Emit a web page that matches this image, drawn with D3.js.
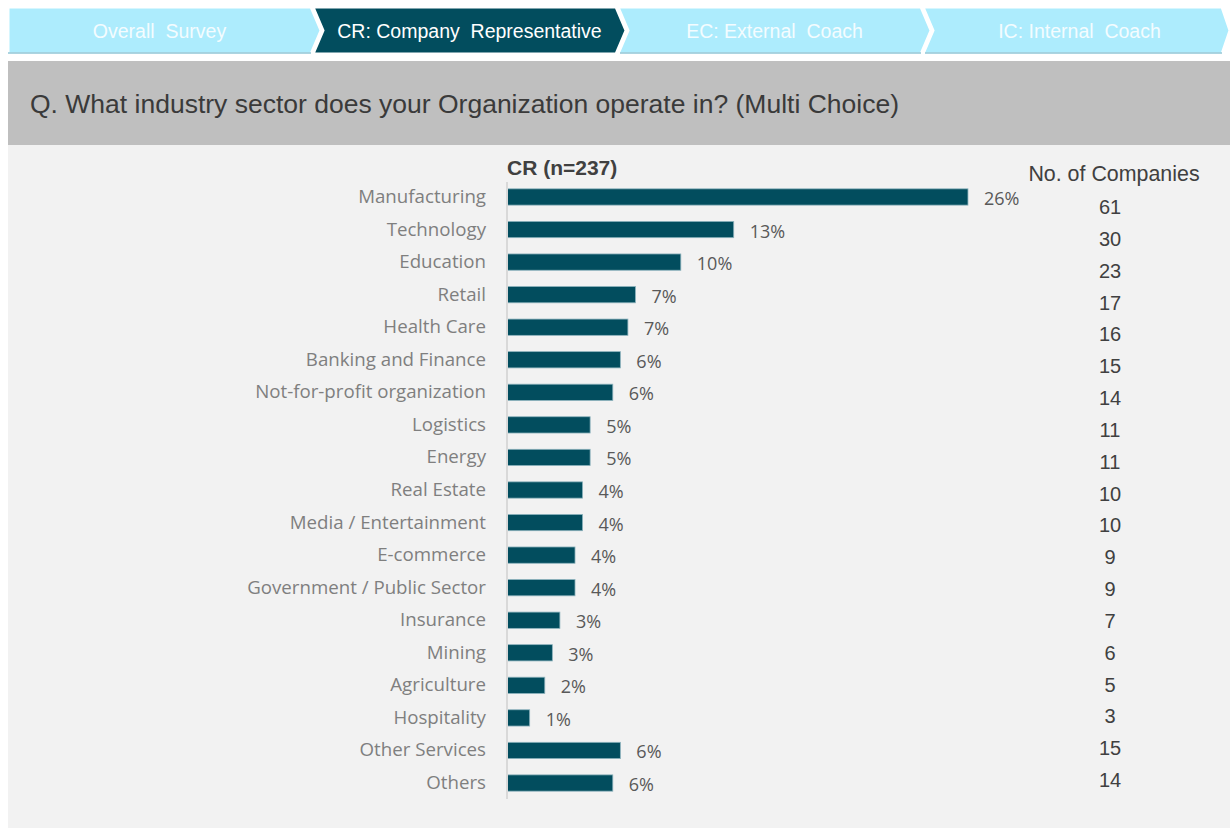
<!DOCTYPE html>
<html>
<head>
<meta charset="utf-8">
<script src="https://cdn.jsdelivr.net/npm/d3@7"></script>
<style>
  body { margin: 0; background: #fff; }
  svg { display: block; }
</style>
</head>
<body>
<svg id="chart" width="1230" height="829"></svg>
<script>
// data
var tabs = ["Overall  Survey", "CR: Company  Representative", "EC: External  Coach", "IC: Internal  Coach"];
var activeTab = 1;
var question = "Q. What industry sector does your Organization operate in? (Multi Choice)";
var seriesTitle = "CR (n=237)";
var sampleSize = 237;
var categories = ["Manufacturing", "Technology", "Education", "Retail", "Health Care",
  "Banking and Finance", "Not-for-profit organization", "Logistics", "Energy", "Real Estate",
  "Media / Entertainment", "E-commerce", "Government / Public Sector", "Insurance", "Mining",
  "Agriculture", "Hospitality", "Other Services", "Others"];
var companies = [61, 30, 23, 17, 16, 15, 14, 11, 11, 10, 10, 9, 9, 7, 6, 5, 3, 15, 14];
var countHeader = "No. of Companies";

var data = categories.map(function(c, i) {
  return { name: c, count: companies[i], share: companies[i] / sampleSize };
});

var svg = d3.select("#chart");

// ---- tabs across the top
var tabW = 303, tabGap = 2, tabTop = 7, tabH = 47, tip = 10;
var tabG = svg.append("g");
tabs.forEach(function(t, i) {
  var x0 = 8 + i * (tabW + tabGap);
  var x1 = x0 + tabW;
  var pts;
  if (i === 0) {
    pts = [[x0, tabTop], [x1, tabTop], [x1 + tip, tabTop + tabH / 2], [x1, tabTop + tabH], [x0, tabTop + tabH]];
  } else {
    pts = [[x0, tabTop], [x1, tabTop], [x1 + tip, tabTop + tabH / 2], [x1, tabTop + tabH], [x0, tabTop + tabH], [x0 + tip, tabTop + tabH / 2]];
  }
  if (i === tabs.length - 1) {
    pts = [[x0, tabTop], [1222, tabTop], [1230, tabTop + tabH / 2], [1222, tabTop + tabH], [x0, tabTop + tabH], [x0 + tip, tabTop + tabH / 2]];
  }
  tabG.append("polygon")
    .attr("points", pts.map(function(p) { return p.join(","); }).join(" "))
    .attr("fill", i === activeTab ? "#024D5E" : "#ADECFD")
    .attr("stroke", "#fff")
    .attr("stroke-width", 3)
    .attr("stroke-linejoin", "miter");
  if (i !== activeTab) {
    tabG.append("line")
      .attr("x1", x0 + (i === 0 ? 0 : 2)).attr("x2", (i === tabs.length - 1 ? 1222 : x1))
      .attr("y1", tabTop + tabH - 1).attr("y2", tabTop + tabH - 1)
      .attr("stroke", "#92C6D6").attr("stroke-width", 1.5);
  }
  tabG.append("text")
    .attr("x", (x0 + x1) / 2 + (i === 0 ? 0 : tip / 2))
    .attr("y", tabTop + tabH / 2 + 7)
    .attr("text-anchor", "middle")
    .style("font-family", "'Liberation Sans', Arial, sans-serif")
    .style("font-size", "19.5px")
    .style("white-space", "pre")
    .attr("fill", i === activeTab ? "#ffffff" : "#F4FCFF")
    .text(t);
});

// ---- question header
svg.append("rect")
  .attr("x", 8).attr("y", 61).attr("width", 1222).attr("height", 84)
  .attr("fill", "#BFBFBF");
svg.append("text")
  .attr("x", 30).attr("y", 113)
  .style("font-family", "'Liberation Sans', Arial, sans-serif")
  .style("font-size", "26.5px")
  .attr("fill", "#3a3a3a")
  .text(question);

// ---- chart panel
svg.append("rect")
  .attr("x", 8).attr("y", 145).attr("width", 1222).attr("height", 683)
  .attr("fill", "#F2F2F2");

var x = d3.scaleLinear().domain([0, 0.3]).range([507, 1044.3]);
var y = d3.scaleBand()
  .domain(categories)
  .range([180.7, 799.3])
  .paddingInner(0.5)
  .paddingOuter(0.25);

var g = svg.append("g");

g.append("text")
  .attr("x", 507).attr("y", 175)
  .style("font-family", "'Liberation Sans', Arial, sans-serif")
  .style("font-size", "21px")
  .style("font-weight", "bold")
  .attr("fill", "#404040")
  .text(seriesTitle);

g.selectAll(".bar")
  .data(data)
  .enter().append("rect")
  .attr("class", "bar")
  .attr("x", x(0))
  .attr("y", function(d) { return y(d.name); })
  .attr("height", y.bandwidth())
  .attr("width", function(d) { return x(d.share) - x(0); })
  .attr("fill", "#024D5E")
  .attr("stroke", "#8DB3BD")
  .attr("stroke-width", 0.8);

// axis line + category labels
var yAxis = g.append("g")
  .attr("transform", "translate(" + x(0) + ",0)")
  .call(d3.axisLeft(y).tickSize(0).tickPadding(21));
yAxis.select(".domain").attr("stroke", "#D9D9D9").attr("stroke-width", 2)
  .attr("d", "M0,182V799");
yAxis.selectAll("text")
  .style("font-family", "'Open Sans', sans-serif")
  .style("font-size", "18.7px")
  .attr("fill", "#7F7F7F");

// value labels
g.selectAll(".val")
  .data(data)
  .enter().append("text")
  .attr("class", "val")
  .attr("x", function(d) { return x(d.share) + 16; })
  .attr("y", function(d) { return y(d.name) + y.bandwidth() / 2 + 8; })
  .style("font-family", "'Open Sans', sans-serif")
  .style("font-size", "18px")
  .attr("fill", "#595959")
  .text(function(d) { return Math.round(d.share * 100) + "%"; });

// company counts column
var yc = d3.scalePoint().domain(categories).range([207, 780]);
g.append("text")
  .attr("x", 1114).attr("y", 181)
  .attr("text-anchor", "middle")
  .style("font-family", "'Liberation Sans', Arial, sans-serif")
  .style("font-size", "21.4px")
  .attr("fill", "#404040")
  .text(countHeader);
g.selectAll(".cnt")
  .data(data)
  .enter().append("text")
  .attr("class", "cnt")
  .attr("x", 1110)
  .attr("y", function(d) { return yc(d.name) + 7; })
  .attr("text-anchor", "middle")
  .style("font-family", "'Liberation Sans', Arial, sans-serif")
  .style("font-size", "20px")
  .attr("fill", "#404040")
  .text(function(d) { return d.count; });
</script>
</body>
</html>
